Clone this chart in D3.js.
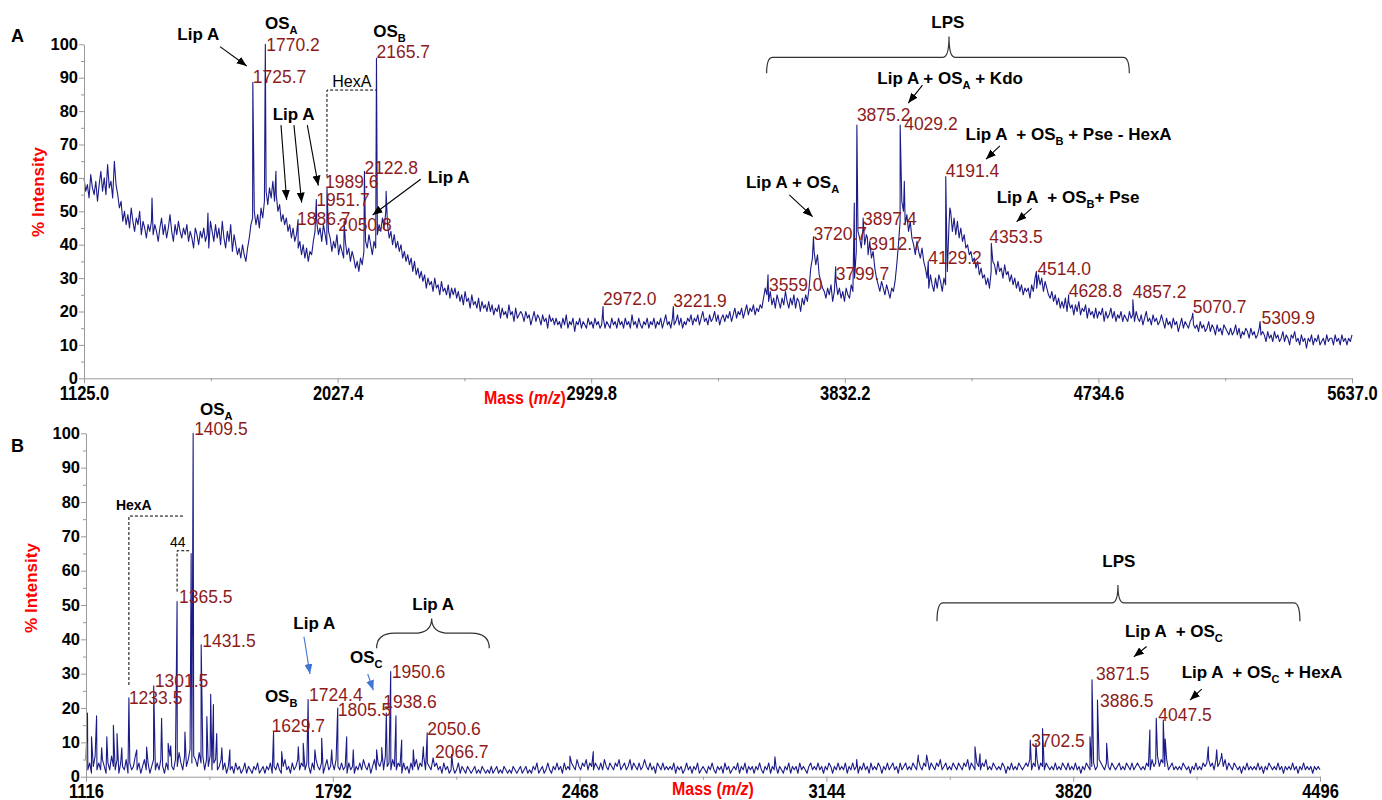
<!DOCTYPE html>
<html>
<head>
<meta charset="utf-8">
<script src="https://cdn.jsdelivr.net/npm/d3@7"></script>
<style>
  body { margin: 0; background: #fff; }
  svg text { font-family: "Liberation Sans", Arial, sans-serif; white-space: pre; }
</style>
</head>
<body>
<svg id="chart" width="1382" height="800"></svg>
<script>
// ---- data ----
var intensityTicks = [0, 10, 20, 30, 40, 50, 60, 70, 80, 90, 100];
var massTicksA = ["1125.0", "2027.4", "2929.8", "3832.2", "4734.6", "5637.0"];
var massTicksB = ["1116", "1792", "2468", "3144", "3820", "4496"];

// spectrum A, one sample every 6 m/z from 1125 (20 samples = 120 m/z per row)
var traceStartA = 1125, traceStepA = 6;
var traceA = [
  60,56,58,54,61,57,55,59,53,58,62,56,60,55,64,57,59,54,65,58,
  55,51,53,47,50,46,49,45,51,47,44,48,46,50,43,47,45,42,46,44,
  47,43,46,44,41,45,48,43,46,42,45,49,44,41,46,43,47,44,42,45,
  43,46,41,44,42,39,45,43,40,44,42,45,41,43,39,47,44,41,46,42,
  45,40,47,42,39,44,41,46,38,43,40,37,39,36,40,37,35,39,42,46,
  48,50,46,49,45,51,48,53,56,52,57,54,59,53,55,50,52,47,49,46,
  48,44,46,42,45,41,43,39,41,37,40,36,39,35,38,37,41,44,47,43,
  45,41,46,43,40,44,42,38,41,39,43,37,40,38,36,41,37,39,35,38,
  36,33,35,32,36,34,38,41,39,43,40,37,41,39,43,46,44,48,45,50,
  46,42,44,40,43,39,41,38,40,36,38,35,37,34,36,32,35,31,33,30,
  32,29,31,27,30,28,29,26,30,27,28,25,29,26,27,25,28,24,27,25,
  27,24,26,23,25,22,26,23,24,21,25,22,23,21,24,20,23,21,22,20,
  23,20,22,19,21,20,22,18,21,19,20,18,22,19,20,17,21,18,19,20,
  19,17,20,18,19,16,18,20,17,19,18,16,19,17,18,15,19,17,18,16,
  18,16,17,15,18,16,19,15,17,16,18,14,17,16,18,15,17,16,15,18,
  16,17,15,18,16,17,15,16,18,15,17,16,15,18,16,17,15,18,16,17,
  15,18,16,17,15,19,16,17,15,18,16,15,17,16,18,15,17,16,18,15,
  17,16,18,15,17,19,16,17,15,18,16,17,19,16,18,15,17,16,18,17,
  19,16,18,17,19,16,18,20,17,18,16,19,17,18,20,17,19,16,18,19,
  17,19,18,20,17,19,21,18,20,19,21,18,20,22,19,21,20,22,19,21,
  20,22,21,24,27,25,23,26,22,24,21,25,23,21,24,22,26,23,21,24,
  22,25,21,24,23,20,24,22,25,23,27,33,36,38,34,37,31,29,27,26,
  24,27,25,28,23,26,29,25,27,24,26,23,27,25,24,28,26,30,38,44,
  42,39,45,40,43,37,41,36,38,33,30,28,26,29,27,25,28,26,24,27,
  26,29,34,40,47,53,50,46,49,44,47,42,40,37,41,38,36,39,35,33,
  30,27,31,28,26,30,27,31,29,26,30,28,32,46,50,44,48,43,47,42,
  45,41,43,39,40,37,38,35,36,33,35,31,33,30,31,28,30,27,32,35,
  34,31,35,32,33,30,34,31,32,29,31,28,30,27,29,26,28,25,27,26,
  27,24,28,26,30,27,31,28,30,26,29,27,25,24,26,23,25,22,24,21,
  23,21,24,20,23,21,22,19,22,20,23,19,21,20,22,18,21,19,20,18,
  21,18,20,19,21,17,20,18,19,21,18,20,17,19,18,20,17,19,18,17,
  20,18,19,17,20,18,17,19,16,18,20,17,18,16,19,17,18,16,17,19,
  17,15,18,16,17,15,18,16,17,14,16,18,15,17,16,15,17,18,16,15,
  16,14,17,15,16,14,15,17,14,16,15,13,16,14,15,13,16,15,14,13,
  15,13,14,16,13,15,12,14,13,15,14,12,15,13,14,12,13,15,13,14,
  13,11,14,12,13,11,14,12,13,11,12,14,11,13,12,10,13,12,14,11,
  12,10,13,11,12,9,12,11,13,10,12,11,13,10,11,12,10,13,11,12,
  12,10,13,11,12,10,13,11,12,10,12,11,13
];
var peakMassA =   [1367, 1566, 1725.7, 1770.2, 1808, 1886.7, 1951.7, 1989.6, 2050.8, 2122.8, 2165.7, 2200,
                   2972.0, 3221.9, 3559.0, 3720.7, 3799.7, 3866, 3875.2, 3897.4, 3912.7, 4029.2, 4044,
                   4129.2, 4191.4, 4206, 4353.5, 4514.0, 4628.8, 4857.2, 5070.7, 5309.9];
var peakHeightA = [54, 49.5, 88.6, 100, 62, 47.5, 53.5, 57, 47, 62, 95.8, 56,
                   21.5, 21.5, 31, 42.4, 33.4, 52.5, 75.8, 48, 42, 75.8, 59,
                   35, 60.4, 51, 40.4, 32, 25, 23.5, 19.5, 17];

// spectrum B, one sample every 5 m/z from 1116 (20 samples = 100 m/z per row)
var traceStartB = 1116, traceStepB = 5;
var traceB = [
  5,2,4,1,3,6,2,4,2,5,3,1,4,2,6,3,2,5,1,4,
  3,2,5,1,4,2,3,6,2,4,1,3,5,2,4,1,3,5,2,4,
  2,5,3,1,4,2,6,3,2,5,3,7,4,2,6,3,5,8,4,6,
  5,3,7,4,6,2,5,3,6,2,4,5,2,3,5,2,4,1,3,2,
  3,1,4,2,3,1,2,4,1,3,2,1,3,2,4,1,2,3,1,3,
  2,4,1,3,2,4,2,1,3,5,2,3,1,4,2,3,5,2,4,3,
  2,4,3,1,4,2,5,3,2,4,1,3,5,2,3,4,2,5,3,2,
  4,2,3,1,4,2,3,1,3,2,4,2,5,3,2,4,1,3,5,2,
  4,3,5,2,6,3,4,2,5,3,2,4,3,1,4,2,3,1,4,2,
  3,5,2,4,3,6,2,4,3,2,5,3,4,2,3,1,4,2,3,1,
  2,3,1,2,4,1,3,2,1,3,2,1,2,3,1,2,1,3,2,1,
  2,1,3,1,2,3,1,2,1,3,2,1,2,1,3,2,1,2,3,1,
  2,3,1,2,1,3,2,4,1,2,3,1,2,4,2,1,3,2,4,2,
  3,1,4,2,3,2,4,3,2,5,3,2,4,3,5,2,4,3,2,4,
  3,2,4,2,5,3,2,4,3,2,4,3,5,2,3,4,2,3,5,2,
  4,3,2,4,2,3,5,3,2,4,2,3,1,4,3,2,4,2,3,2,
  3,2,4,1,3,2,3,1,2,4,2,3,1,3,2,4,1,2,3,2,
  1,3,2,4,2,1,3,2,3,1,4,2,3,1,2,3,2,4,1,3,
  2,4,1,3,2,3,1,3,2,4,2,1,3,2,4,1,3,2,3,1,
  3,2,1,3,2,4,1,3,2,3,1,4,2,3,2,1,3,4,2,3,
  2,4,2,3,1,3,2,4,3,1,3,2,4,2,3,2,4,1,3,2,
  4,2,3,1,3,2,4,2,3,1,4,2,3,2,4,3,1,3,2,4,
  2,3,4,2,3,1,4,2,3,4,2,3,2,4,3,2,5,3,2,4,
  3,5,2,4,3,2,4,3,5,2,3,4,2,3,2,4,3,2,4,3,
  2,4,3,5,2,4,3,2,4,3,2,4,3,5,2,3,2,4,3,2,
  3,2,4,3,1,3,2,4,2,3,2,4,3,2,3,4,3,5,2,4,
  3,5,2,4,3,2,4,3,2,3,2,4,2,3,2,4,3,2,4,2,
  3,2,4,2,3,1,3,2,4,3,2,3,4,2,3,5,4,3,2,4,
  3,2,4,3,2,3,4,2,3,2,4,3,2,4,2,3,4,3,2,3,
  2,4,3,2,5,3,4,6,3,5,4,3,5,2,3,4,2,3,2,3,
  2,4,3,2,3,1,3,2,4,2,3,2,4,3,4,5,3,4,2,5,
  3,4,6,3,5,2,4,3,2,4,3,2,3,1,3,2,4,2,3,2,
  3,2,4,2,3,1,3,2,4,3,2,3,2,4,2,3,1,3,2,3,
  2,4,2,3,1,3,2,4,2,3,2,3,1,3,2,3,2
];
var peakMassB =   [1120, 1131, 1145, 1159, 1173, 1191, 1201, 1214, 1233.5, 1255, 1282, 1301.5, 1323, 1341, 1348,
                   1365.5, 1387, 1404, 1409.5, 1431.5, 1447, 1457.5, 1465, 1474, 1488, 1510,
                   1629.7, 1652, 1697.5, 1711, 1724.4, 1743, 1761.6, 1789, 1805.5, 1830, 1848,
                   1912, 1926, 1938.6, 1950.6, 1965, 1980.7, 2012.5, 2040, 2050.6, 2066.7, 2117.6,
                   2441.6, 2505.5, 3003, 3227, 3395.6, 3418.6, 3551, 3564.7, 3702.5, 3718, 3736,
                   3866, 3871.5, 3886.5, 3911.6, 4030, 4047.5, 4066.7, 4072, 4190, 4213, 4226.6];
var peakHeightB = [18.5, 11.6, 17.7, 8.4, 11.6, 15, 12.6, 8.4, 23, 7.8, 8.6, 26.5, 17, 9.7, 9,
                   51, 13, 65, 100, 38.4, 17.5, 24, 21, 12.6, 8.4, 7.8,
                   13, 7.3, 8.7, 9.7, 22.5, 7.8, 11.2, 7.8, 20, 11.6, 7.8,
                   7.8, 8.5, 18.5, 30.6, 17.7, 10.7, 7.8, 8.7, 12.8, 5.5, 6.5,
                   6, 7.3, 5.8, 5, 6.3, 6.3, 8.7, 6.7, 10.7, 9.7, 14,
                   11.6, 28.2, 22.3, 9.7, 13.6, 17, 16.5, 11, 8.7, 7.8, 6.8];

// labelled peaks: [mass, label level (% intensity), pixel nudge]
var peakLabelsA = [[1770.2, 98, 1], [1725.7, 88.4, 0], [2165.7, 95.8, 0], [2122.8, 61.2, 0],
                   [1989.6, 56.9, -2], [1951.7, 51.7, 0], [1886.7, 45.9, -1], [2050.8, 44.2, -6],
                   [2972.0, 22, 0], [3221.9, 21.4, 0], [3559.0, 26.2, 1], [3720.7, 41.4, 0],
                   [3799.7, 29.4, 0], [3875.2, 77, 0], [3897.4, 45.9, 0], [3912.7, 38.4, 1],
                   [4029.2, 74.3, 4], [4191.4, 60.4, 0], [4129.2, 34.2, 0], [4353.5, 40.6, -2],
                   [4514.0, 30.9, 1], [4628.8, 24.4, 0], [4857.2, 24, 0], [5070.7, 19.5, 0], [5309.9, 16.3, 1.5]];
var peakLabelsB = [[1409.5, 99.5, 1], [1365.5, 50.5, 2], [1431.5, 37.9, 1], [1301.5, 26.2, 1],
                   [1233.5, 21.2, 0], [1724.4, 22.1, 1], [1629.7, 13.1, -2], [1805.5, 17.7, 0],
                   [1950.6, 28.7, 1], [1938.6, 19.9, -3], [2050.6, 12.1, 0], [2066.7, 5.4, 2],
                   [3702.5, 8.7, 1], [3871.5, 28.2, 4], [3886.5, 20.2, 2.5], [4047.5, 16.3, 2]];

// annotation text in data coordinates (mass, % intensity); "_X" marks a subscript
var notesA = [
  {t: "Lip A", m: 1457, v: 101.3},
  {t: "OS_A", m: 1769, v: 104.6},
  {t: "OS_B", m: 2154, v: 102.3},
  {t: "HexA", m: 2008.5, v: 87.3, plain: true, size: 16},
  {t: "Lip A", m: 1796.5, v: 77.3},
  {t: "Lip A", m: 2348, v: 58.4},
  {t: "Lip A + OS_A", m: 3480.6, v: 56.9},
  {t: "LPS", m: 4199, v: 104.9, mid: true},
  {t: "Lip A + OS_A + Kdo", m: 3948, v: 88},
  {t: "Lip A  + OS_B + Pse - HexA", m: 4262, v: 71.3},
  {t: "Lip A  + OS_B+ Pse", m: 4372.6, v: 52.6}
];
var arrowsA = [[1609, 99.3, 1704, 93.5], [1826, 75.8, 1846, 53.4], [1872, 75.8, 1899.6, 52.6],
               [1919.6, 75.8, 1958.7, 57.7], [2323, 59.6, 2152, 48.9], [3634.7, 54.9, 3717.9, 48.4],
               [4108.6, 87.8, 4058, 82.4], [4384, 69.6, 4334.6, 65.6], [4497, 50.9, 4443.6, 46.9]];
var dashesA = [[[1989.6, 60.3], [1989.6, 86.3], [2165.7, 86.3]]];
var bracesA = [{l: 3554, r: 4844.6, c: 4203, end: 91.3, h: 96.1, tip: 102.3, rad: 6}];

var notesB = [
  {t: "OS_A", m: 1428, v: 105.3},
  {t: "HexA", m: 1198, v: 77.7, size: 14},
  {t: "44", m: 1346, v: 67, plain: true, size: 14},
  {t: "Lip A", m: 1684, v: 42.9},
  {t: "OS_C", m: 1839, v: 33},
  {t: "OS_B", m: 1606, v: 21.8},
  {t: "Lip A", m: 2009.7, v: 48.5},
  {t: "LPS", m: 3945, v: 61.2, mid: true},
  {t: "Lip A  + OS_C", m: 3961.8, v: 40.8},
  {t: "Lip A  + OS_C + HexA", m: 4117, v: 28.7}
];
var arrowsB = [[4021, 37.9, 3986, 34.9], [4172, 25.5, 4140, 22.3]];
var blueArrowsB = [[1713, 40.8, 1729.5, 29.9], [1887.6, 29.9, 1903, 25.2]];
var dashesB = [[[1233.5, 26.7], [1233.5, 75.9], [1385, 75.9]],
               [[1365.5, 53.9], [1365.5, 65.8], [1400.9, 65.8]]];
var bracesB = [{l: 1912, r: 2220.6, c: 2062.8, end: 37.4, h: 41.8, tip: 46.1, rad: 18},
               {l: 3447, r: 4441, c: 3942.6, end: 45.3, h: 50.6, tip: 55.8, rad: 6}];

// ---- drawing ----
var svg = d3.select("#chart");
var RED = "#ff0000", LABEL = "#8c1c1c", LINE = "#1c1c88", AXIS = "#9a9a9a";

var defs = svg.append("defs");
[["arrowBlack", "#000"], ["arrowBlue", "#3f76d6"]].forEach(function (a) {
  defs.append("marker")
      .attr("id", a[0])
      .attr("markerUnits", "userSpaceOnUse")
      .attr("markerWidth", 10).attr("markerHeight", 8)
      .attr("refX", 10).attr("refY", 4)
      .attr("orient", "auto")
    .append("path")
      .attr("d", "M0,0 L10,4 L0,8 Z")
      .attr("fill", a[1]);
});

function addText(g, str, x, y, opts) {
  var t = g.append("text")
      .attr("x", x).attr("y", y)
      .attr("font-size", opts.size || 17)
      .attr("font-weight", opts.plain ? "normal" : "bold")
      .attr("fill", opts.fill || "#000")
      .attr("text-anchor", opts.mid ? "middle" : "start");
  var parts = str.split(/_([A-Z])/);
  var shifted = false;
  parts.forEach(function (p, i) {
    if (!p) return;
    if (i % 2 === 1) {
      t.append("tspan").attr("dy", 5).attr("font-size", "0.65em").text(p);
      shifted = true;
    } else {
      var ts = t.append("tspan").text(p);
      if (shifted) { ts.attr("dy", -5); shifted = false; }
    }
  });
  return t;
}

function drawPanel(cfg) {
  var g = svg.append("g");
  var x = d3.scaleLinear().domain(cfg.xDomain).range(cfg.xRange);
  var y = d3.scaleLinear().domain([0, 100]).range(cfg.yRange);

  // spectrum: regular samples plus the sharp peaks, merged by mass
  var pts = cfg.trace.map(function (v, i) { return [cfg.start + i * cfg.step, v]; });
  cfg.peakMass.forEach(function (m, i) { pts.push([m, cfg.peakHeight[i]]); });
  pts.sort(function (a, b) { return a[0] - b[0]; });

  var line = d3.line()
      .x(function (d) { return x(d[0]); })
      .y(function (d) { return y(d[1]); });

  g.append("path")
      .datum(pts)
      .attr("d", line)
      .attr("fill", "none")
      .attr("stroke", LINE)
      .attr("stroke-width", 1.1)
      .attr("stroke-linejoin", "round");

  // axes
  var xVals = cfg.xTicks.map(Number);
  var minorX = xVals.slice(1).map(function (v, i) { return (v + xVals[i]) / 2; });
  var yBase = cfg.yRange[0];

  var xAxis = g.append("g")
      .attr("transform", "translate(0," + yBase + ")")
      .call(d3.axisBottom(x).tickValues(xVals).tickSize(5).tickSizeOuter(0)
              .tickFormat(function (d, i) { return cfg.xTicks[i]; }));
  g.append("g")
      .attr("transform", "translate(0," + yBase + ")")
      .call(d3.axisBottom(x).tickValues(minorX).tickSize(3).tickFormat(""))
      .call(function (a) { a.select(".domain").remove(); a.selectAll("line").attr("stroke", AXIS); });

  xAxis.select(".domain").attr("stroke", AXIS);
  xAxis.selectAll("line").attr("stroke", AXIS);
  xAxis.selectAll("text")
      .attr("y", 16.8).attr("dy", null)
      .attr("transform", "scale(1,1.28)")
      .attr("font-size", 16.5).attr("font-weight", "bold")
      .attr("font-family", "Liberation Sans, Arial, sans-serif")
      .attr("fill", "#000");

  var yAxis = g.append("g")
      .attr("transform", "translate(" + cfg.xRange[0] + ",0)")
      .call(d3.axisLeft(y).tickValues(intensityTicks).tickSize(5).tickPadding(1).tickSizeOuter(0));
  g.append("g")
      .attr("transform", "translate(" + cfg.xRange[0] + ",0)")
      .call(d3.axisLeft(y).tickValues(d3.range(5, 100, 10)).tickSize(3).tickFormat(""))
      .call(function (a) { a.select(".domain").remove(); a.selectAll("line").attr("stroke", AXIS); });
  yAxis.select(".domain").attr("stroke", AXIS);
  yAxis.selectAll("line").attr("stroke", AXIS);
  yAxis.selectAll("text")
      .attr("font-size", 16.5).attr("font-weight", "bold")
      .attr("font-family", "Liberation Sans, Arial, sans-serif")
      .attr("fill", "#000");

  // axis titles and panel letter
  g.append("text")
      .attr("transform", "translate(" + cfg.yTitle[0] + "," + cfg.yTitle[1] + ") rotate(-90)")
      .attr("text-anchor", "middle")
      .attr("font-size", 17).attr("font-weight", "bold").attr("fill", RED)
      .text("% Intensity");
  var mt = g.append("text")
      .attr("transform", "translate(" + cfg.xTitle[0] + "," + cfg.xTitle[1] + ") scale(1,1.2)")
      .attr("font-size", 16).attr("font-weight", "bold").attr("fill", RED);
  mt.append("tspan").text("Mass (");
  mt.append("tspan").attr("font-style", "italic").text("m/z");
  mt.append("tspan").text(")");
  g.append("text")
      .attr("x", cfg.letter[0]).attr("y", cfg.letter[1])
      .attr("font-size", 18).attr("font-weight", "bold")
      .text(cfg.letterText);

  // dashed mass-difference brackets
  cfg.dashes.forEach(function (d) {
    g.append("path")
        .datum(d)
        .attr("d", line)
        .attr("fill", "none").attr("stroke", "#000")
        .attr("stroke-width", 1).attr("stroke-dasharray", "3,2");
  });

  // curly braces
  cfg.braces.forEach(function (b) {
    var L = x(b.l), R = x(b.r), C = x(b.c), E = y(b.end), H = y(b.h), T = y(b.tip), r = b.rad;
    var d = "M" + L + "," + E +
            " Q" + L + "," + H + " " + (L + r) + "," + H +
            " L" + (C - r) + "," + H +
            " Q" + C + "," + H + " " + C + "," + T +
            " Q" + C + "," + H + " " + (C + r) + "," + H +
            " L" + (R - r) + "," + H +
            " Q" + R + "," + H + " " + R + "," + E;
    g.append("path").attr("d", d).attr("fill", "none").attr("stroke", "#333").attr("stroke-width", 1.2);
  });

  // arrows
  function drawArrows(list, color, marker) {
    list.forEach(function (a) {
      g.append("line")
          .attr("x1", x(a[0])).attr("y1", y(a[1]))
          .attr("x2", x(a[2])).attr("y2", y(a[3]))
          .attr("stroke", color).attr("stroke-width", 1.1)
          .attr("marker-end", "url(#" + marker + ")");
    });
  }
  drawArrows(cfg.arrows, "#000", "arrowBlack");
  drawArrows(cfg.blueArrows, "#3f76d6", "arrowBlue");

  // annotation text
  cfg.notes.forEach(function (n) {
    addText(g, n.t, x(n.m), y(n.v), n);
  });

  // peak mass labels
  cfg.labels.forEach(function (p) {
    g.append("text")
        .attr("x", x(p[0]) + p[2]).attr("y", y(p[1]))
        .attr("font-size", 17.5).attr("fill", LABEL)
        .text(p[0].toFixed(1));
  });
}

drawPanel({
  xDomain: [1125, 5637], xRange: [84, 1352], yRange: [378.3, 44.3],
  start: traceStartA, step: traceStepA, trace: traceA,
  peakMass: peakMassA, peakHeight: peakHeightA,
  xTicks: massTicksA, labels: peakLabelsA, notes: notesA,
  arrows: arrowsA, blueArrows: [], dashes: dashesA, braces: bracesA,
  yTitle: [44, 192], xTitle: [484, 404], letter: [11, 41.7], letterText: "A"
});

drawPanel({
  xDomain: [1116, 4496], xRange: [86, 1320], yRange: [776.7, 433.3],
  start: traceStartB, step: traceStepB, trace: traceB,
  peakMass: peakMassB, peakHeight: peakHeightB,
  xTicks: massTicksB, labels: peakLabelsB, notes: notesB,
  arrows: arrowsB, blueArrows: blueArrowsB, dashes: dashesB, braces: bracesB,
  yTitle: [37, 588], xTitle: [672, 795], letter: [11, 451.7], letterText: "B"
});
</script>
</body>
</html>
